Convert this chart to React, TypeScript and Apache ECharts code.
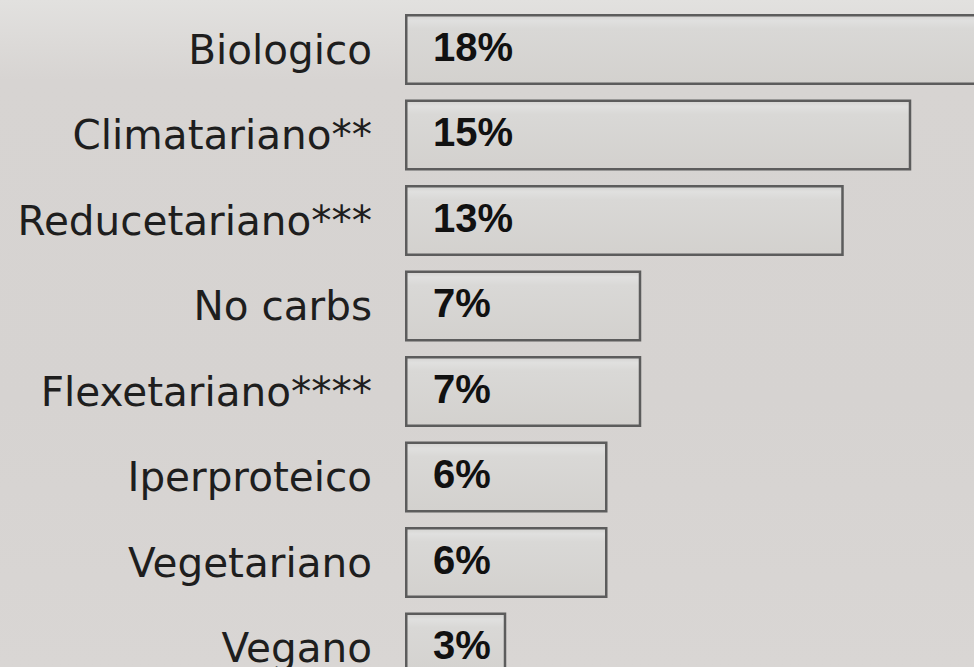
import React, { useEffect, useRef } from "react";
import * as echarts from "echarts";

const categories = [
  "Biologico",
  "Climatariano**",
  "Reducetariano***",
  "No carbs",
  "Flexetariano****",
  "Iperproteico",
  "Vegetariano",
  "Vegano",
];
const values = [18, 15, 13, 7, 7, 6, 6, 3];
const valueLabels = ["18%", "15%", "13%", "7%", "7%", "6%", "6%", "3%"];

export default function App() {
  const ref = useRef<HTMLDivElement>(null);
  useEffect(() => {
    if (!ref.current) return;
    const chart = echarts.init(ref.current, undefined, { renderer: "svg" });
    chart.setOption({
      animation: false,
      grid: { left: 405, top: 6.75, width: 675, height: 684, containLabel: false },
      xAxis: {
        type: "value",
        min: 0,
        max: 20,
        show: false,
      },
      yAxis: {
        type: "category",
        data: categories,
        inverse: true,
        axisLine: { show: false },
        axisTick: { show: false },
        splitLine: { show: false },
        axisLabel: {
          margin: 33,
          color: "#1e1e1e",
          fontFamily: "DejaVu Sans",
          fontSize: 40.5,
          padding: [0, 0, 7, 0],
        },
      },
      series: [
        {
          type: "bar",
          data: values,
          barCategoryGap: "17%",
          itemStyle: {
            color: {
              type: "linear",
              x: 0,
              y: 0,
              x2: 0,
              y2: 1,
              colorStops: [
                { offset: 0, color: "#d4d3d1" },
                { offset: 0.08, color: "#e0e0df" },
                { offset: 0.2, color: "#d9d8d6" },
                { offset: 1, color: "#d3d1ce" },
              ],
            },
            borderColor: "#5c5c5c",
            borderWidth: 2.5,
          },
          label: {
            show: true,
            position: "insideLeft",
            distance: 0,
            offset: [28, -3],
            color: "#111",
            fontFamily: "Liberation Sans",
            fontWeight: "bold",
            fontSize: 40,
            formatter: (p: any) => valueLabels[p.dataIndex],
          },
        },
      ],
    });
    return () => chart.dispose();
  }, []);
  return (
    <div
      style={{
        position: "fixed",
        left: 0,
        top: 0,
        width: 974,
        height: 667,
        overflow: "hidden",
        background:
          "linear-gradient(180deg, #e2e1df 0%, #d7d4d2 12%, #d6d3d1 60%, #d9d6d4 100%)",
      }}
    >
      <div ref={ref} style={{ width: 1090, height: 700 }} />
    </div>
  );
}
